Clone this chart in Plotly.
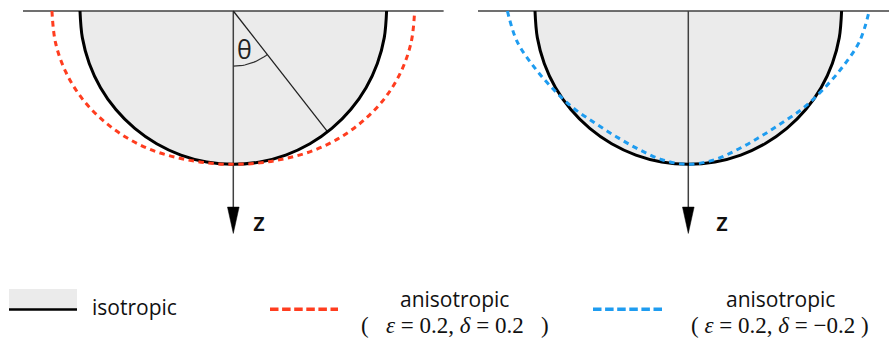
import numpy as np
import plotly.graph_objects as go

# ---- data ----
theta_deg = [0, 10, 20, 30, 40, 50, 60, 70, 80, 90]          # angle from vertical z axis
r_iso = [1.0, 1.0, 1.0, 1.0, 1.0, 1.0, 1.0, 1.0, 1.0, 1.0]    # isotropic wavefront radius
r_aniso_pos = [1.0, 1.006, 1.022, 1.05, 1.08, 1.11, 1.14, 1.163, 1.178, 1.183]   # eps=0.2, delta=0.2
r_aniso_neg = [1.0, 0.985, 0.958, 0.945, 0.952, 0.982, 1.018, 1.07, 1.135, 1.18]  # eps=0.2, delta=-0.2
theta_mark_deg = 38
labels = ["isotropic", "anisotropic", "anisotropic"]
params = ["(\u00a0\u00a0\u00a0<i>ε</i>\u00a0=\u00a00.2,\u00a0<i>δ</i>\u00a0=\u00a00.2\u00a0\u00a0\u00a0)",
          "(\u00a0<i>ε</i>\u00a0=\u00a00.2,\u00a0<i>δ</i>\u00a0=\u00a0−0.2\u00a0)"]

W, H = 889, 338
GRAY = "#ebebeb"
RED = "#ff3d1f"
BLUE = "#1e9cf0"
DARK = "#404040"


def mirror(th, r):
    th = np.asarray(th, float)
    r = np.asarray(r, float)
    full_t = np.concatenate([-th[::-1], th[1:]])
    full_r = np.concatenate([r[::-1], r[1:]])
    t = np.deg2rad(full_t)
    return full_r * np.sin(t), full_r * np.cos(t)


fig = go.Figure()

panels = [("x", "y", r_aniso_pos, RED, True), ("x2", "y2", r_aniso_neg, BLUE, False)]
for xa, ya, r_an, col, show_theta in panels:
    xi, yi = mirror(theta_deg, r_iso)
    # gray fill
    fig.add_trace(go.Scatter(x=xi, y=yi, mode="lines", fill="toself", fillcolor=GRAY,
                             line=dict(width=0, shape="spline"), xaxis=xa, yaxis=ya,
                             hoverinfo="skip", showlegend=False))
    # surface line
    fig.add_trace(go.Scatter(x=[-1.372, 1.372], y=[0, 0], mode="lines",
                             line=dict(color=DARK, width=1.5), xaxis=xa, yaxis=ya,
                             hoverinfo="skip", showlegend=False))
    # z axis
    fig.add_trace(go.Scatter(x=[0, 0], y=[0, 1.29], mode="lines",
                             line=dict(color=DARK, width=1.5), xaxis=xa, yaxis=ya,
                             hoverinfo="skip", showlegend=False))
    fig.add_trace(go.Scatter(x=[-0.038, 0.038, 0, -0.038], y=[1.279, 1.279, 1.451, 1.279],
                             mode="lines", fill="toself", fillcolor="black",
                             line=dict(color="black", width=0.5), xaxis=xa, yaxis=ya,
                             hoverinfo="skip", showlegend=False))
    if show_theta:
        tm = np.deg2rad(theta_mark_deg)
        fig.add_trace(go.Scatter(x=[0, np.sin(tm)], y=[0, np.cos(tm)], mode="lines",
                                 line=dict(color="#202020", width=1.3), xaxis=xa, yaxis=ya,
                                 hoverinfo="skip", showlegend=False))
        ta = np.linspace(0, tm, 20)
        fig.add_trace(go.Scatter(x=0.36 * np.sin(ta), y=0.36 * np.cos(ta), mode="lines",
                                 line=dict(color="#303030", width=1.2), xaxis=xa, yaxis=ya,
                                 hoverinfo="skip", showlegend=False))
    # isotropic outline
    fig.add_trace(go.Scatter(x=xi, y=yi, mode="lines",
                             line=dict(color="black", width=3, shape="spline"), xaxis=xa, yaxis=ya,
                             hoverinfo="skip", showlegend=False))
    # anisotropic wavefront
    xa_, ya_ = mirror(theta_deg, r_an)
    fig.add_trace(go.Scatter(x=xa_, y=ya_, mode="lines",
                             line=dict(color=col, width=3, dash="5.5px,4.5px", shape="spline"),
                             xaxis=xa, yaxis=ya, hoverinfo="skip", showlegend=False))

R = 153.3
cx1, cx2, top = 233.3, 688.3, 11.0
half = W / 2
ax_common = dict(visible=False, showgrid=False, zeroline=False, fixedrange=True)
fig.update_layout(
    width=W, height=H, margin=dict(l=0, r=0, t=0, b=0),
    paper_bgcolor="white", plot_bgcolor="rgba(0,0,0,0)",
    xaxis=dict(domain=[0, 0.5], range=[-cx1 / R, (half - cx1) / R], **ax_common),
    yaxis=dict(domain=[0, 1], range=[(H - top) / R, -top / R], **ax_common),
    xaxis2=dict(domain=[0.5, 1], range=[(half - cx2) / R, (W - cx2) / R], **ax_common),
    yaxis2=dict(domain=[0, 1], range=[(H - top) / R, -top / R], anchor="x2", **ax_common),
    showlegend=False,
)

# axis annotations
zfont = dict(family="Open Sans", size=25, color="#111", weight=600)
fig.add_annotation(x=0.17, y=1.37, xref="x", yref="y", text="z", showarrow=False, font=zfont)
fig.add_annotation(x=0.22, y=1.37, xref="x2", yref="y2", text="z", showarrow=False, font=zfont)
fig.add_annotation(x=0.072, y=0.245, xref="x", yref="y", text="θ", showarrow=False,
                   font=dict(family="Open Sans", size=25, color="#222"))


def px(x):
    return x / W


def py(y):
    return 1 - y / H


# legend
fig.add_shape(type="rect", xref="paper", yref="paper", x0=px(9), x1=px(77), y0=py(310), y1=py(289),
              fillcolor=GRAY, line=dict(width=0))
fig.add_shape(type="line", xref="paper", yref="paper", x0=px(9), x1=px(77), y0=py(309.5), y1=py(309.5),
              line=dict(color="black", width=2.5))
fig.add_shape(type="line", xref="paper", yref="paper", x0=px(270), x1=px(338), y0=py(309.3), y1=py(309.3),
              line=dict(color=RED, width=3.5, dash="8.5px,3.6px"))
fig.add_shape(type="line", xref="paper", yref="paper", x0=px(593), x1=px(662), y0=py(309.3), y1=py(309.3),
              line=dict(color=BLUE, width=3.5, dash="8.5px,3.6px"))

sans = dict(family="Open Sans", size=21, color="#111")
serif = dict(family="Liberation Serif", size=23, color="#111")
fig.add_annotation(x=px(90), y=py(307), xref="paper", yref="paper", text=labels[0], showarrow=False,
                   xanchor="left", yanchor="middle", font=sans)
fig.add_annotation(x=px(454), y=py(299), xref="paper", yref="paper", text=labels[1], showarrow=False,
                   xanchor="center", yanchor="middle", font=sans)
fig.add_annotation(x=px(780), y=py(299), xref="paper", yref="paper", text=labels[2], showarrow=False,
                   xanchor="center", yanchor="middle", font=sans)
fig.add_annotation(x=px(455), y=py(325), xref="paper", yref="paper", text=params[0], showarrow=False,
                   xanchor="center", yanchor="middle", font=serif)
fig.add_annotation(x=px(780), y=py(325), xref="paper", yref="paper", text=params[1], showarrow=False,
                   xanchor="center", yanchor="middle", font=serif)

fig.write_html("out.html")
